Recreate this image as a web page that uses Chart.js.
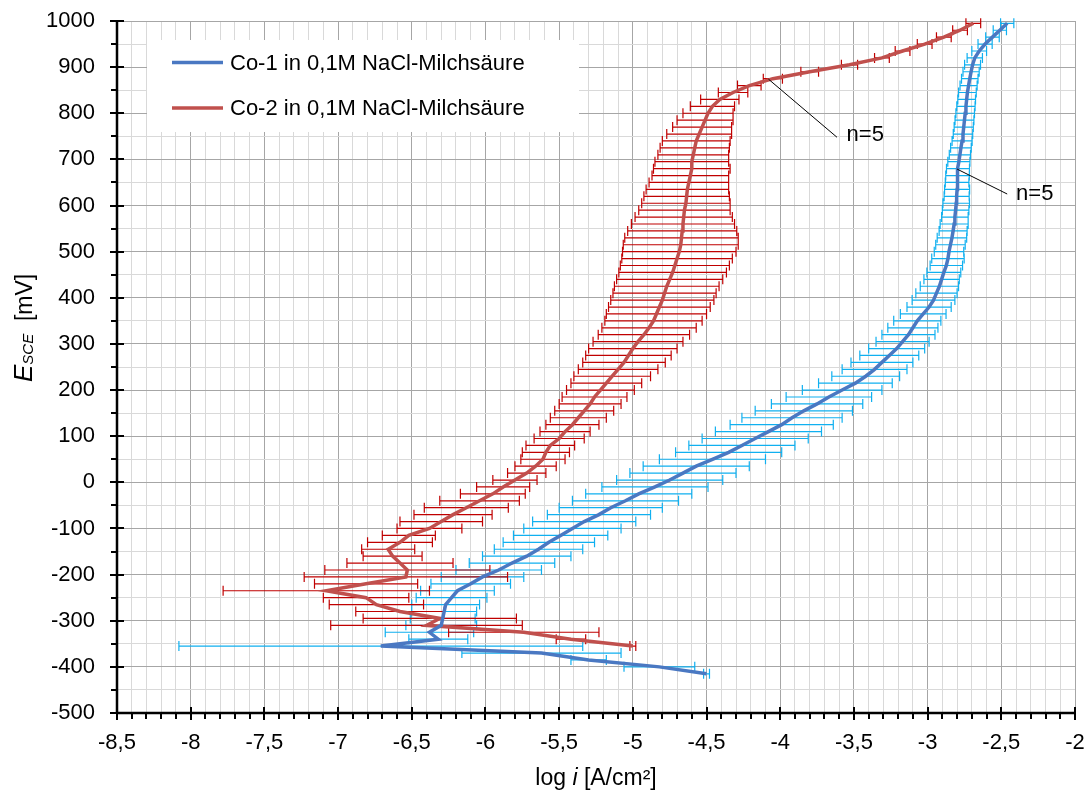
<!DOCTYPE html>
<html>
<head>
<meta charset="utf-8">
<title>Stromdichte-Potential-Kurven Co-1 / Co-2</title>
<script src="https://cdn.jsdelivr.net/npm/chart.js@4.4.1/dist/chart.umd.min.js"></script>
<style>
    html, body { margin: 0; padding: 0; background: #fff; }
    #wrap { width: 1088px; height: 793px; }
</style>
</head>
<body>
<div id="wrap"><canvas id="curveChart" width="1088" height="793"></canvas></div>
<script>
// Potentials [mV] and mean log i [A/cm²] with the +/- spread (n=5)
const co1Potential = [-415, -400, -385, -370, -355, -340, -325, -310, -295, -280, -265, -250, -235, -220, -205, -190, -175, -160, -145, -130, -115, -100, -85, -70, -55, -40, -25, -10, 5, 20, 35, 50, 65, 80, 95, 110, 125, 140, 155, 170, 185, 200, 215, 230, 245, 260, 275, 290, 305, 320, 335, 350, 365, 380, 395, 410, 425, 440, 455, 470, 485, 500, 515, 530, 545, 560, 575, 590, 605, 620, 635, 650, 665, 680, 695, 710, 725, 740, 755, 770, 785, 800, 815, 830, 845, 860, 875, 890, 905, 920, 935, 950, 965, 980, 995];
const co1LogI = [-4.50, -4.82, -5.30, -5.62, -6.71, -6.32, -6.38, -6.30, -6.29, -6.28, -6.27, -6.23, -6.19, -6.10, -6.02, -5.91, -5.82, -5.72, -5.64, -5.57, -5.49, -5.41, -5.33, -5.23, -5.15, -5.05, -4.96, -4.85, -4.75, -4.66, -4.57, -4.46, -4.35, -4.26, -4.17, -4.08, -3.99, -3.92, -3.84, -3.75, -3.67, -3.58, -3.49, -3.42, -3.36, -3.31, -3.26, -3.21, -3.17, -3.13, -3.10, -3.07, -3.03, -2.99, -2.96, -2.94, -2.92, -2.905, -2.89, -2.873, -2.862, -2.855, -2.845, -2.835, -2.827, -2.82, -2.815, -2.81, -2.806, -2.803, -2.80, -2.80, -2.797, -2.794, -2.788, -2.781, -2.774, -2.766, -2.76, -2.755, -2.75, -2.745, -2.74, -2.735, -2.73, -2.722, -2.714, -2.705, -2.695, -2.68, -2.65, -2.61, -2.56, -2.51, -2.46];
const co1Spread = [0.02, 0.24, 0.12, 0.54, 1.37, 0.20, 0.30, 0.24, 0.22, 0.22, 0.23, 0.24, 0.25, 0.27, 0.28, 0.29, 0.29, 0.30, 0.30, 0.31, 0.32, 0.33, 0.35, 0.35, 0.35, 0.36, 0.36, 0.36, 0.36, 0.36, 0.36, 0.36, 0.36, 0.36, 0.36, 0.36, 0.35, 0.34, 0.33, 0.31, 0.29, 0.27, 0.25, 0.23, 0.22, 0.21, 0.20, 0.19, 0.18, 0.18, 0.17, 0.16, 0.155, 0.15, 0.145, 0.14, 0.13, 0.12, 0.115, 0.11, 0.11, 0.10, 0.10, 0.10, 0.095, 0.095, 0.09, 0.09, 0.09, 0.085, 0.085, 0.08, 0.08, 0.078, 0.075, 0.072, 0.07, 0.068, 0.066, 0.065, 0.064, 0.063, 0.062, 0.06, 0.06, 0.058, 0.056, 0.055, 0.054, 0.052, 0.05, 0.048, 0.046, 0.045, 0.045];

const co2Potential = [-355, -340, -325, -310, -295, -280, -265, -250, -235, -220, -205, -190, -175, -160, -145, -130, -115, -100, -85, -70, -55, -40, -25, -10, 5, 20, 35, 50, 65, 80, 95, 110, 125, 140, 155, 170, 185, 200, 215, 230, 245, 260, 275, 290, 305, 320, 335, 350, 365, 380, 395, 410, 425, 440, 455, 470, 485, 500, 515, 530, 545, 560, 575, 590, 605, 620, 635, 650, 665, 680, 695, 710, 725, 740, 755, 770, 785, 800, 815, 830, 845, 860, 875, 890, 905, 920, 935, 950, 965, 980, 995];
const co2LogI = [-5.00, -5.42, -5.74, -6.40, -6.31, -6.58, -6.74, -6.81, -7.08, -6.81, -6.54, -6.53, -6.58, -6.63, -6.66, -6.58, -6.52, -6.38, -6.30, -6.22, -6.13, -6.04, -5.95, -5.88, -5.80, -5.72, -5.66, -5.61, -5.59, -5.56, -5.50, -5.46, -5.41, -5.37, -5.33, -5.29, -5.26, -5.22, -5.18, -5.14, -5.10, -5.06, -5.03, -5.00, -4.965, -4.925, -4.89, -4.86, -4.84, -4.82, -4.80, -4.785, -4.77, -4.75, -4.73, -4.715, -4.70, -4.685, -4.675, -4.67, -4.665, -4.66, -4.655, -4.65, -4.64, -4.635, -4.63, -4.62, -4.61, -4.60, -4.60, -4.59, -4.58, -4.57, -4.55, -4.53, -4.51, -4.49, -4.46, -4.41, -4.32, -4.21, -4.05, -3.80, -3.53, -3.31, -3.17, -3.02, -2.89, -2.78, -2.69];
const co2Spread = [0.02, 0.10, 0.51, 0.65, 0.52, 0.30, 0.32, 0.29, 0.70, 0.35, 0.69, 0.56, 0.36, 0.20, 0.18, 0.22, 0.18, 0.22, 0.28, 0.265, 0.285, 0.27, 0.22, 0.18, 0.15, 0.13, 0.14, 0.15, 0.16, 0.165, 0.17, 0.17, 0.18, 0.19, 0.20, 0.21, 0.22, 0.23, 0.24, 0.26, 0.27, 0.28, 0.29, 0.30, 0.305, 0.31, 0.32, 0.33, 0.34, 0.345, 0.35, 0.35, 0.355, 0.36, 0.365, 0.37, 0.375, 0.385, 0.39, 0.385, 0.37, 0.35, 0.33, 0.31, 0.30, 0.29, 0.28, 0.27, 0.26, 0.26, 0.25, 0.24, 0.235, 0.23, 0.22, 0.20, 0.19, 0.17, 0.15, 0.13, 0.10, 0.08, 0.065, 0.06, 0.055, 0.05, 0.05, 0.05, 0.05, 0.05, 0.05];

const seriesLabels = ['Co-1 in 0,1M NaCl-Milchsäure', 'Co-2 in 0,1M NaCl-Milchsäure'];
const xRange = [-8.5, -2];
const yRange = [-500, 1000];

// "n=5" callouts, in data units: arrow start, arrow end, text anchor
const callouts = [
    { from: [-4.08, 874], to: [-3.615, 748], at: [-3.55, 752] },
    { from: [-2.80, 679], to: [-2.46, 625], at: [-2.40, 625] }
];

const FONT = "'Liberation Sans', Arial, sans-serif";
Chart.defaults.font.family = FONT;
Chart.defaults.font.size = 22;
Chart.defaults.color = '#000';

const isMultiple = (v, step) => Math.abs(v / step - Math.round(v / step)) < 1e-6;
const fmtComma = v => String(Math.round(v * 10) / 10).replace('.', ',');

function toPoints(pot, logi, spread) {
    return pot.map((e, i) => ({ x: logi[i], y: e, err: spread[i] }));
}

// horizontal error bars with caps, drawn under the lines
const errorBars = {
    id: 'errorBars',
    beforeDatasetsDraw(chart) {
        const { ctx, scales: { x, y } } = chart;
        ctx.save();
        ctx.lineWidth = 1.2;
        chart.data.datasets.forEach(ds => {
            ctx.strokeStyle = ds.errorColor;
            ctx.beginPath();
            ds.data.forEach(p => {
                const py = y.getPixelForValue(p.y);
                const x0 = x.getPixelForValue(p.x - p.err);
                const x1 = x.getPixelForValue(p.x + p.err);
                ctx.moveTo(x0, py); ctx.lineTo(x1, py);
                ctx.moveTo(x0, py - 5); ctx.lineTo(x0, py + 5);
                ctx.moveTo(x1, py - 5); ctx.lineTo(x1, py + 5);
            });
            ctx.stroke();
        });
        ctx.restore();
    }
};

// axis lines, tick marks, titles, legend box and callouts
const decorations = {
    id: 'decorations',
    afterDraw(chart) {
        const { ctx, chartArea: a, scales: { x, y } } = chart;
        ctx.save();

        // tick marks
        ctx.strokeStyle = '#000';
        ctx.lineWidth = 2;
        ctx.beginPath();
        x.ticks.forEach(t => {
            const px = Math.round(x.getPixelForValue(t.value));
            if (isMultiple(t.value, 0.5)) { ctx.moveTo(px, a.bottom - 6); ctx.lineTo(px, a.bottom + 7); }
            else { ctx.moveTo(px, a.bottom); ctx.lineTo(px, a.bottom + 6); }
        });
        y.ticks.forEach(t => {
            const py = Math.round(y.getPixelForValue(t.value));
            if (isMultiple(t.value, 100)) { ctx.moveTo(a.left - 7, py); ctx.lineTo(a.left + 7, py); }
            else { ctx.moveTo(a.left - 6, py); ctx.lineTo(a.left, py); }
        });
        ctx.stroke();

        // axis lines
        ctx.lineWidth = 2.5;
        ctx.beginPath();
        ctx.moveTo(a.left, a.top); ctx.lineTo(a.left, a.bottom);
        ctx.moveTo(a.left - 1, a.bottom); ctx.lineTo(a.right, a.bottom);
        ctx.stroke();

        // x title: log i [A/cm²]
        ctx.fillStyle = '#000';
        ctx.textBaseline = 'alphabetic';
        const parts = [['log ', 'normal'], ['i', 'italic'], [' [A/cm²]', 'normal']];
        let total = 0;
        parts.forEach(p => { ctx.font = p[1] + ' 23px ' + FONT; total += ctx.measureText(p[0]).width; });
        let tx = (a.left + a.right) / 2 - total / 2;
        parts.forEach(p => {
            ctx.font = p[1] + ' 23px ' + FONT;
            ctx.fillText(p[0], tx, 785);
            tx += ctx.measureText(p[0]).width;
        });

        // y title: E_SCE [mV]
        ctx.save();
        ctx.translate(32, 382);
        ctx.rotate(-Math.PI / 2);
        let ty = 0;
        ctx.font = 'italic 26px ' + FONT;
        ctx.fillText('E', ty, 0); ty += ctx.measureText('E').width;
        ctx.font = 'italic 15px ' + FONT;
        ctx.fillText('SCE', ty, 1); ty += ctx.measureText('SCE').width;
        ctx.font = 'normal 23px ' + FONT;
        ctx.fillText('  [mV]', ty, 0);
        ctx.restore();

        // legend
        ctx.fillStyle = '#fff';
        ctx.fillRect(147, 40, 432, 92);
        chart.data.datasets.forEach((ds, i) => {
            const ly = 62.5 + i * 45.5;
            ctx.strokeStyle = ds.borderColor;
            ctx.lineWidth = 3.5;
            ctx.beginPath(); ctx.moveTo(172, ly); ctx.lineTo(223, ly); ctx.stroke();
            ctx.fillStyle = '#000';
            ctx.font = '22px ' + FONT;
            ctx.textBaseline = 'middle';
            ctx.fillText(ds.label, 230, ly + 1);
        });

        // n=5 callouts
        ctx.strokeStyle = '#000';
        ctx.lineWidth = 1;
        ctx.font = '22px ' + FONT;
        ctx.textBaseline = 'middle';
        callouts.forEach(c => {
            ctx.beginPath();
            ctx.moveTo(x.getPixelForValue(c.from[0]), y.getPixelForValue(c.from[1]));
            ctx.lineTo(x.getPixelForValue(c.to[0]), y.getPixelForValue(c.to[1]));
            ctx.stroke();
            ctx.fillText('n=5', x.getPixelForValue(c.at[0]), y.getPixelForValue(c.at[1]));
        });

        ctx.restore();
    }
};

const chart = new Chart(document.getElementById('curveChart'), {
    type: 'scatter',
    data: {
        datasets: [
            {
                label: seriesLabels[0],
                data: toPoints(co1Potential, co1LogI, co1Spread),
                showLine: true,
                borderColor: '#4A78C2',
                borderWidth: 3.5,
                pointRadius: 0,
                errorColor: '#10B0F0',
                tension: 0
            },
            {
                label: seriesLabels[1],
                data: toPoints(co2Potential, co2LogI, co2Spread),
                showLine: true,
                borderColor: '#C0504D',
                borderWidth: 3.5,
                pointRadius: 0,
                errorColor: '#C00000',
                tension: 0
            }
        ]
    },
    options: {
        responsive: false,
        devicePixelRatio: 1,
        animation: false,
        layout: { padding: { top: 21, right: 13, left: 0, bottom: 0 } },
        plugins: {
            legend: { display: false },
            tooltip: { enabled: false }
        },
        scales: {
            x: {
                type: 'linear',
                min: xRange[0],
                max: xRange[1],
                afterFit: s => { s.height = 80; s.paddingLeft = 0; s.paddingRight = 0; },
                border: { display: false },
                grid: {
                    drawTicks: false,
                    lineWidth: 1,
                    color: c => (c.tick && isMultiple(c.tick.value, 0.5)) ? '#a6a6a6' : '#d9d9d9'
                },
                ticks: {
                    stepSize: 0.1,
                    maxTicksLimit: 100,
                    autoSkip: false,
                    maxRotation: 0,
                    padding: 17,
                    callback: v => isMultiple(v, 0.5) ? fmtComma(v) : ''
                }
            },
            y: {
                type: 'linear',
                min: yRange[0],
                max: yRange[1],
                afterFit: s => { s.width = 117; s.paddingTop = 0; s.paddingBottom = 0; },
                border: { display: false },
                grid: {
                    drawTicks: false,
                    lineWidth: 1,
                    color: c => (c.tick && isMultiple(c.tick.value, 100)) ? '#a6a6a6' : '#d9d9d9'
                },
                ticks: {
                    stepSize: 50,
                    maxTicksLimit: 100,
                    autoSkip: false,
                    padding: 22,
                    callback: v => isMultiple(v, 100) ? String(v) : ''
                }
            }
        }
    },
    plugins: [errorBars, decorations]
});
</script>
</body>
</html>
